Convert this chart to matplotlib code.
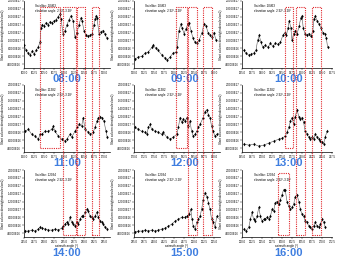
import matplotlib.pyplot as plt
import numpy as np
from matplotlib.patches import Rectangle

plt.rcParams["font.family"] = ["Liberation Sans", "DejaVu Sans"]

# azimuth angle (deg) and slant column density (1e16 molecules/cm2), one pair per hour
az_0800 = [100.0, 100.5, 101.0, 101.5, 102.0, 102.5, 103.0, 103.5, 104.0, 104.25, 104.5, 105.0,
           105.5, 106.0, 106.5, 107.0, 107.5, 108.0, 108.5, 109.0, 109.25, 109.75, 110.25, 110.75,
           111.25, 111.75, 112.25, 112.75, 113.25, 113.75, 114.25, 114.5, 115.0, 115.5, 116.0,
           116.5, 117.0, 117.5, 117.75, 118.0, 118.25, 118.75, 119.25, 119.75, 120.25, 120.75]
scd_0800 = [8.75, 7.5, 6.75, 6.25, 7.25, 6.5, 7.5, 8.25, 9.5, 13.25, 14.0, 13.75,
            14.5, 14.0, 14.75, 14.5, 15.0, 15.25, 16.0, 16.75, 15.5, 11.75, 12.5, 14.0,
            15.25, 16.25, 15.0, 10.75, 12.0, 14.0, 15.75, 15.0, 12.5, 11.25, 11.0,
            11.25, 11.5, 14.0, 15.5, 16.25, 15.75, 11.75, 12.25, 12.5, 11.5, 10.5]

az_0900 = [120.25, 121.0, 122.0, 122.75, 123.5, 124.5, 124.75, 125.5, 126.0, 127.0, 127.75, 128.25,
           129.0, 129.75, 130.5, 130.75, 131.25, 131.75, 132.0, 132.5, 133.0, 133.5, 133.75, 134.25,
           134.75, 135.25, 135.75, 136.25, 137.0, 137.5, 138.0, 138.5, 139.0, 139.5, 140.0, 140.5]
scd_0900 = [5.25, 5.75, 6.0, 6.75, 7.0, 8.25, 8.75, 8.0, 7.5, 6.25, 5.5, 5.0,
            5.75, 6.75, 7.0, 8.25, 12.5, 14.25, 13.25, 11.75, 13.0, 14.25, 14.5, 12.5,
            10.5, 9.5, 9.25, 10.0, 12.0, 14.25, 13.75, 12.0, 11.25, 10.75, 12.0, 10.0]

az_1000 = [135.4, 136.0, 136.7, 137.3, 137.9, 138.5, 138.9, 139.3, 139.75, 140.2, 140.8, 141.5,
           142.1, 142.7, 143.3, 144.0, 144.6, 145.2, 145.7, 146.1, 146.5, 146.8, 147.2, 147.5,
           147.9, 148.3, 148.8, 149.3, 149.7, 150.0, 150.3, 150.7, 151.2, 151.7, 152.2, 152.7,
           153.0, 153.3, 153.75, 154.2, 154.7, 155.2, 155.7, 156.1, 156.4]
scd_1000 = [7.5, 6.75, 6.25, 6.5, 6.75, 7.5, 10.0, 11.25, 9.5, 8.25, 8.75, 8.25,
            9.25, 8.5, 9.25, 9.0, 9.5, 11.25, 12.0, 11.25, 13.25, 15.0, 13.25, 10.0,
            11.75, 12.5, 11.75, 13.75, 15.75, 16.25, 13.25, 11.75, 11.25, 11.75, 11.0, 12.5,
            15.5, 16.25, 15.0, 14.25, 13.25, 12.0, 11.75, 10.5, 8.25]

az_1100 = [150.25, 151.1, 151.9, 152.75, 153.6, 154.0, 154.4, 155.25, 156.1, 156.9, 157.3, 157.75,
           158.6, 159.4, 160.25, 160.7, 161.5, 161.9, 162.75, 163.3, 163.8, 164.4, 164.8, 165.25,
           166.1, 166.5, 167.3, 167.75, 168.2, 168.6, 169.0, 169.4, 170.0, 170.5, 170.8]
scd_1100 = [8.25, 8.75, 7.5, 7.0, 6.25, 7.5, 7.5, 8.25, 8.25, 8.75, 9.5, 8.25,
            7.0, 6.25, 5.75, 6.25, 7.5, 6.75, 8.25, 9.25, 10.0, 9.5, 11.75, 8.75,
            8.0, 7.5, 8.0, 9.25, 10.75, 11.75, 12.0, 11.75, 10.75, 8.25, 6.75]

az_1200 = [170.25, 171.1, 171.9, 172.75, 173.2, 173.6, 174.0, 174.4, 175.25, 176.1, 176.9, 177.3,
           178.2, 179.0, 179.8, 180.7, 181.1, 181.5, 181.9, 182.3, 182.75, 183.2, 183.6, 184.0,
           184.4, 184.8, 185.25, 185.7, 186.1, 186.5, 187.3, 187.75, 188.2, 188.6, 189.0, 189.4,
           189.8, 190.25, 190.7]
scd_1200 = [9.25, 8.75, 8.25, 8.0, 7.5, 9.25, 10.0, 8.75, 8.25, 8.0, 7.5, 8.0,
            6.75, 6.25, 6.75, 7.5, 9.25, 11.75, 10.5, 11.25, 10.75, 11.75, 9.5, 10.75,
            8.25, 7.0, 7.5, 8.25, 9.25, 10.0, 11.75, 13.25, 13.75, 12.5, 11.75, 9.5,
            8.25, 7.0, 7.5]

az_1300 = [195.4, 196.7, 197.9, 199.2, 200.4, 201.7, 202.9, 204.2, 205.0, 205.8, 206.25, 206.7,
           207.1, 207.5, 207.9, 208.3, 208.75, 209.2, 209.6, 210.0, 210.4, 210.8, 211.25, 211.7,
           212.1, 212.5, 212.9, 213.3, 213.75, 214.2, 214.6, 215.0, 215.4, 215.8, 216.25]
scd_1300 = [5.0, 4.75, 5.0, 4.5, 4.75, 5.25, 5.75, 6.25, 6.5, 7.0, 8.0, 9.25,
            10.75, 11.75, 10.0, 12.0, 13.75, 12.0, 11.25, 11.75, 10.5, 8.25, 7.5, 6.75,
            6.25, 6.75, 6.25, 7.5, 6.75, 6.25, 5.75, 5.5, 5.0, 6.75, 8.25]

az_1400 = [215.25, 216.1, 216.9, 217.75, 218.6, 219.0, 219.4, 220.25, 221.1, 221.9, 222.75, 223.6,
           224.4, 224.8, 225.25, 225.7, 226.1, 226.5, 226.9, 227.3, 227.75, 228.2, 228.6, 229.0,
           229.4, 229.8, 230.25, 230.7, 231.1, 231.5, 231.9, 232.3, 232.75, 233.2, 233.6, 234.0,
           234.4, 234.8, 235.25, 235.7]
scd_1400 = [4.5, 4.5, 4.75, 4.5, 5.0, 5.5, 5.25, 5.0, 4.75, 4.75, 5.0, 4.75,
            5.25, 5.75, 6.25, 6.75, 6.25, 8.0, 6.75, 6.25, 5.75, 6.75, 6.25, 7.5,
            8.25, 8.25, 9.25, 10.0, 9.5, 8.25, 8.0, 7.5, 8.25, 9.25, 8.0, 7.0,
            6.75, 6.25, 5.5, 5.0]

az_1500 = [235.25, 236.1, 236.9, 237.75, 238.6, 239.4, 240.25, 241.1, 241.9, 242.75, 243.6, 244.4,
           245.25, 246.1, 246.9, 247.75, 248.3, 248.8, 249.2, 249.5, 249.8, 250.25, 250.7, 251.1,
           251.5, 251.9, 252.3, 252.75, 253.2, 253.6, 254.0, 254.4, 254.8, 255.25, 255.7]
scd_1500 = [4.25, 4.5, 4.5, 4.75, 4.5, 4.75, 4.5, 4.75, 5.0, 5.25, 5.75, 6.25,
            7.0, 7.5, 8.0, 8.0, 8.25, 8.75, 10.0, 7.5, 5.75, 5.0, 6.75, 7.5,
            8.25, 10.0, 12.5, 14.25, 13.25, 11.75, 10.0, 7.5, 6.75, 5.5, 8.25]

az_1600 = [250.4, 251.0, 251.7, 252.1, 252.5, 252.9, 253.3, 253.75, 254.2, 254.6, 255.0, 255.4,
           255.8, 256.25, 256.7, 257.1, 257.5, 257.9, 258.3, 258.75, 259.2, 259.6, 260.0, 260.4,
           260.8, 261.25, 261.7, 262.1, 262.5, 262.9, 263.3, 263.75, 264.2, 264.6, 265.0, 265.4,
           265.8, 266.25, 266.7, 267.1, 267.5, 267.9, 268.3, 268.75, 269.2, 269.6, 270.0, 270.4,
           270.8]
scd_1600 = [5.0, 4.5, 5.5, 7.5, 9.25, 7.5, 7.0, 8.25, 10.5, 8.25, 7.0, 7.5,
            7.5, 8.0, 7.5, 8.25, 10.0, 9.5, 11.75, 12.0, 11.25, 12.5, 13.75, 15.0,
            15.0, 12.0, 10.75, 10.0, 10.5, 11.25, 13.25, 13.75, 12.0, 10.0, 8.75, 8.25,
            7.0, 6.75, 5.75, 5.5, 5.0, 5.75, 6.75, 5.75, 5.5, 6.25, 7.5, 6.75,
            5.5]

hours = ["08:00", "09:00", "10:00", "11:00", "12:00", "13:00", "14:00", "15:00", "16:00"]
satellites = ["Satellite: 10463", "Satellite: 10463", "Satellite: 10463",
              "Satellite: 11382", "Satellite: 11382", "Satellite: 11382",
              "Satellite: 12034", "Satellite: 12034", "Satellite: 12034"]
elevations = ["elevation angle: 2.92°-3.28°"] * 9
az_start = [100, 120, 135, 150, 170, 195, 215, 235, 250]

# highlighted azimuth windows: (column, az from, az to, first row, last row),
# azimuth given on the axis of the first row
windows = [
    (0, 104.0, 109.0, 0, 1),
    (0, 109.75, 113.0, 0, 2),
    (0, 113.25, 115.25, 0, 2),
    (0, 117.0, 118.75, 0, 2),
    (1, 130.5, 133.25, 0, 1),
    (1, 133.5, 135.75, 0, 2),
    (1, 137.25, 139.5, 0, 2),
    (2, 145.75, 147.75, 0, 1),
    (2, 148.5, 150.75, 0, 2),
    (2, 152.5, 154.75, 0, 2),
    (2, 144.0, 146.75, 2, 2),
]

azimuths = [az_0800, az_0900, az_1000, az_1100, az_1200, az_1300, az_1400, az_1500, az_1600]
scds = [scd_0800, scd_0900, scd_1000, scd_1100, scd_1200, scd_1300, scd_1400, scd_1500, scd_1600]

W, H = 337, 259
col_left = [24, 134, 242]
col_w = [86, 86, 90]
row_top = [1, 85, 170]
row_h = 67
label_x = [0.5, 0.59, 0.52]

fig = plt.figure(figsize=(W / 100, H / 100), dpi=100)
axes = {}
for i in range(9):
    r, c = divmod(i, 3)
    ax = fig.add_axes([col_left[c] / W, 1 - (row_top[r] + row_h) / H, col_w[c] / W, row_h / H])
    axes[(r, c)] = ax
    ax.plot(azimuths[i], np.array(scds[i]) * 1e16, color="#555555", lw=0.4,
            marker="d", ms=1.6, mfc="black", mec="black", mew=0.2)
    x0 = az_start[i]
    x1 = x0 + col_w[c] / 4
    ax.set_xlim(x0, x1)
    ax.set_ylim(3e16, 20e16)
    ax.set_xticks(np.arange(x0, x1 + 0.01, 2.5))
    ax.set_xticklabels([f"{v:.1f}" for v in np.arange(x0, x1 + 0.01, 2.5)])
    yt = np.arange(4, 20.1, 2) * 1e16
    ax.set_yticks(yt)
    ax.set_yticklabels([f"{v:.4E}".replace("E+", "E") for v in yt])
    ax.tick_params(labelsize=2, length=1.2, width=0.3, pad=0.8)
    for s in ("top", "right"):
        ax.spines[s].set_visible(False)
    for s in ("left", "bottom"):
        ax.spines[s].set_linewidth(0.5)
    ax.set_ylabel("Slant column density(molecules/cm2)", fontsize=2.2, labelpad=1)
    ax.yaxis.set_label_coords(-19 / col_w[c], 0.5)
    ax.text(0.13, 0.95, satellites[i], transform=ax.transAxes, fontsize=2.2, va="top")
    ax.text(0.13, 0.88, elevations[i], transform=ax.transAxes, fontsize=2.2, va="top")
    if r == 2:
        ax.set_xlabel("azimuth angle (°)", fontsize=2.2)
        ax.xaxis.set_label_coords(0.5, -0.1)
        ty = -0.24
    else:
        ty = -0.16
    ax.text(label_x[c], ty, hours[i], transform=ax.transAxes, fontsize=8,
            fontweight="bold", color="#3f7ee0", ha="center", va="center")

inv = fig.transFigure.inverted()
for c, a0, a1, top_row, bot_row in windows:
    ax_ref = axes[(0, c)]
    ax_top = axes[(top_row, c)]
    ax_bot = axes[(bot_row, c)]
    top_frac = 0.91 if top_row == 0 else 0.96
    bot_frac = 0.03 if bot_row == 2 else 0.06
    xa = inv.transform(ax_ref.transData.transform((a0, 0)))[0]
    xb = inv.transform(ax_ref.transData.transform((a1, 0)))[0]
    yt_ = inv.transform(ax_top.transAxes.transform((0, top_frac)))[1]
    yb_ = inv.transform(ax_bot.transAxes.transform((0, bot_frac)))[1]
    fig.patches.append(Rectangle((xa, yb_), xb - xa, yt_ - yb_, transform=fig.transFigure,
                                 fill=False, edgecolor="#e0262b", lw=0.8,
                                 linestyle=(0, (1, 1)), zorder=10))

fig.savefig("out.png", dpi=100)
